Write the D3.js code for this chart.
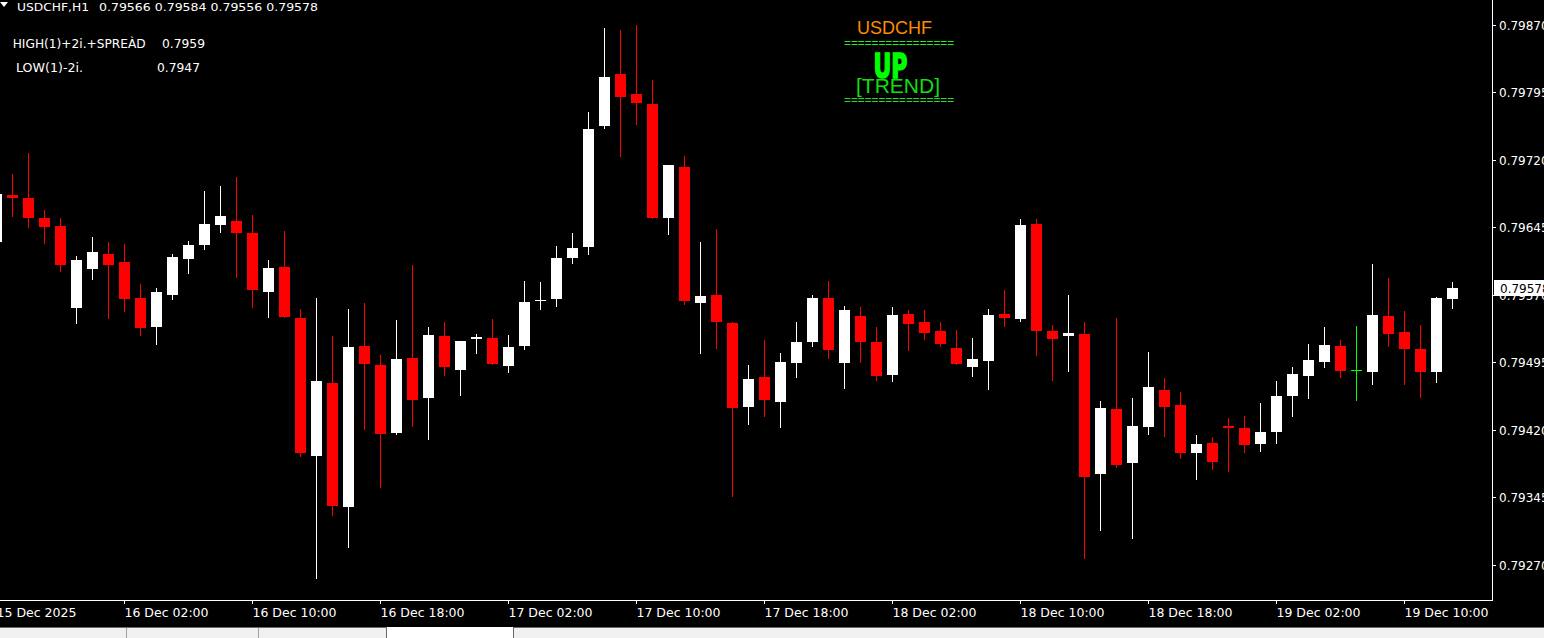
<!DOCTYPE html>
<html><head><meta charset="utf-8">
<script src="https://cdn.jsdelivr.net/npm/d3@7"></script>
<style>html,body{margin:0;padding:0;background:#000;overflow:hidden}svg{display:block}</style>
</head><body>
<script>
// ---- data (USDCHF H1) ----
const symbol = "USDCHF,H1";
const startTime = "2025-12-15T18:00";
const openP  = [0.79629,0.79681,0.79678,0.79656,0.79647,0.79556,0.79599,0.79616,0.79607,0.79567,0.79534,0.79570,0.79610,0.79626,0.79648,0.79652,0.79639,0.79573,0.79601,0.79544,0.79391,0.79472,0.79334,0.79513,0.79492,0.79417,0.79500,0.79455,0.79524,0.79487,0.79521,0.79522,0.79491,0.79513,0.79563,0.79566,0.79611,0.79623,0.79758,0.79816,0.79793,0.79782,0.79655,0.79712,0.79561,0.79570,0.79539,0.79445,0.79479,0.79451,0.79494,0.79518,0.79567,0.79494,0.79547,0.79518,0.79481,0.79549,0.79540,0.79530,0.79511,0.79490,0.79497,0.79549,0.79543,0.79649,0.79530,0.79524,0.79527,0.79371,0.79443,0.79383,0.79423,0.79464,0.79448,0.79394,0.79406,0.79424,0.79422,0.79404,0.79418,0.79458,0.79480,0.79496,0.79513,0.79487,0.79485,0.79547,0.79529,0.79510,0.79484,0.79566];
const highP  = [0.79687,0.79704,0.79728,0.79664,0.79656,0.79613,0.79634,0.79629,0.79627,0.79582,0.79578,0.79616,0.79630,0.79686,0.79691,0.79701,0.79659,0.79609,0.79641,0.79554,0.79567,0.79524,0.79554,0.79561,0.79503,0.79542,0.79603,0.79534,0.79540,0.79519,0.79527,0.79543,0.79526,0.79586,0.79584,0.79624,0.79639,0.79773,0.79867,0.79864,0.79870,0.79809,0.79714,0.79724,0.79629,0.79643,0.79540,0.79492,0.79520,0.79506,0.79540,0.79570,0.79586,0.79558,0.79557,0.79534,0.79557,0.79553,0.79553,0.79540,0.79531,0.79522,0.79554,0.79576,0.79654,0.79654,0.79537,0.79570,0.79540,0.79452,0.79544,0.79456,0.79507,0.79478,0.79462,0.79414,0.79412,0.79433,0.79436,0.79450,0.79474,0.79490,0.79516,0.79534,0.79520,0.79536,0.79604,0.79589,0.79552,0.79537,0.79568,0.79584];
const lowP   = [0.79626,0.79658,0.79645,0.79628,0.79597,0.79539,0.79588,0.79544,0.79552,0.79526,0.79516,0.79566,0.79594,0.79621,0.79640,0.79590,0.79557,0.79546,0.79546,0.79391,0.79255,0.79326,0.79290,0.79421,0.79357,0.79415,0.79424,0.79410,0.79481,0.79459,0.79505,0.79493,0.79485,0.79510,0.79554,0.79558,0.79605,0.79616,0.79755,0.79724,0.79760,0.79655,0.79638,0.79560,0.79506,0.79511,0.79347,0.79427,0.79436,0.79423,0.79479,0.79513,0.79500,0.79467,0.79495,0.79476,0.79475,0.79509,0.79521,0.79513,0.79493,0.79480,0.79465,0.79536,0.79541,0.79503,0.79476,0.79486,0.79278,0.79309,0.79379,0.79300,0.79415,0.79413,0.79389,0.79365,0.79377,0.79374,0.79396,0.79397,0.79405,0.79435,0.79455,0.79490,0.79479,0.79453,0.79471,0.79513,0.79471,0.79457,0.79473,0.79556];
const closeP = [0.79682,0.79678,0.79656,0.79645,0.79603,0.79609,0.79618,0.79603,0.79566,0.79533,0.79573,0.79612,0.79626,0.79649,0.79658,0.79639,0.79576,0.79600,0.79546,0.79394,0.79474,0.79335,0.79512,0.79493,0.79416,0.79499,0.79453,0.79526,0.79490,0.79519,0.79523,0.79493,0.79512,0.79562,0.79564,0.79611,0.79622,0.79754,0.79812,0.79790,0.79783,0.79656,0.79714,0.79563,0.79569,0.79540,0.79444,0.79477,0.79453,0.79496,0.79518,0.79567,0.79509,0.79553,0.79518,0.79480,0.79548,0.79538,0.79528,0.79516,0.79493,0.79499,0.79548,0.79544,0.79648,0.79530,0.79521,0.79528,0.79368,0.79444,0.79381,0.79424,0.79468,0.79445,0.79394,0.79404,0.79384,0.79422,0.79403,0.79418,0.79458,0.79482,0.79498,0.79514,0.79486,0.79487,0.79548,0.79527,0.79510,0.79485,0.79567,0.79578];
const priceTicks = [0.79870,0.79795,0.79720,0.79645,0.79570,0.79495,0.79420,0.79345,0.79270];
const timeTickIdx = [0,8,16,24,32,40,48,56,64,72,80,88];
const timeTickLabels = ["15 Dec 2025","16 Dec 02:00","16 Dec 10:00","16 Dec 18:00","17 Dec 02:00","17 Dec 10:00","17 Dec 18:00","18 Dec 02:00","18 Dec 10:00","18 Dec 18:00","19 Dec 02:00","19 Dec 10:00"];
const infoLabels = ["HIGH(1)+2i.+SPREÀD","LOW(1)-2i."];
const infoValues = ["0.7959","0.7947"];
const trendSymbol = "USDCHF";
const trendWord = "UP";
const trendTag = "[TREND]";

// ---- layout ----
const W = 1544, H = 638;
const plotRight = 1492, plotBottom = 600;
const svg = d3.select("body").append("svg").attr("width", W).attr("height", H)
  .attr("font-family", "DejaVu Sans, sans-serif");
svg.append("rect").attr("width", W).attr("height", H).attr("fill", "#000");

const n = openP.length;
const x = d3.scaleLinear().domain([0, n - 1]).range([-3.5, -3.5 + 16 * (n - 1)]);
const y = d3.scaleLinear().domain([0.79270, 0.79870]).range([565, 25]);

const bars = d3.range(n).map(i => ({i, o: openP[i], h: highP[i], l: lowP[i], c: closeP[i]}));
const colorOf = d => d.c > d.o ? "#ffffff" : (d.c < d.o ? "#ff0000" : "#00ff00");

const plot = svg.append("g").attr("shape-rendering", "crispEdges");
// wicks
plot.selectAll("line.wick").data(bars).join("line").attr("class", "wick")
  .attr("x1", d => Math.floor(x(d.i)) + 0.5).attr("x2", d => Math.floor(x(d.i)) + 0.5)
  .attr("y1", d => Math.round(y(d.h))).attr("y2", d => Math.round(y(d.l)) + 1)
  .attr("stroke", colorOf).attr("stroke-width", 1);
// bodies
plot.selectAll("rect.body").data(bars).join("rect").attr("class", "body")
  .attr("x", d => Math.floor(x(d.i)) - 5).attr("width", 11)
  .attr("y", d => Math.round(y(Math.max(d.o, d.c))))
  .attr("height", d => Math.max(1, Math.round(y(Math.min(d.o, d.c))) - Math.round(y(Math.max(d.o, d.c)))))
  .attr("fill", colorOf);

// ---- axes frame ----
const frame = svg.append("g").attr("shape-rendering", "crispEdges");
frame.append("line").attr("x1", plotRight + 0.5).attr("x2", plotRight + 0.5).attr("y1", 0).attr("y2", plotBottom + 1).attr("stroke", "#fff");
frame.append("line").attr("x1", 0).attr("x2", plotRight + 1).attr("y1", plotBottom + 0.5).attr("y2", plotBottom + 0.5).attr("stroke", "#fff");

// price axis
const pa = svg.append("g");
priceTicks.forEach(v => {
  const yy = Math.round(y(v));
  pa.append("line").attr("x1", plotRight).attr("x2", plotRight + 4).attr("y1", yy + 0.5).attr("y2", yy + 0.5)
    .attr("stroke", "#fff").attr("shape-rendering", "crispEdges");
  pa.append("text").attr("x", plotRight + 7).attr("y", yy + 4.5).attr("fill", "#fff")
    .attr("font-size", 12).text(d3.format(".5f")(v));
});
// current price label
const last = closeP[n - 1];
const ly = Math.round(y(last));
pa.append("rect").attr("x", 1494).attr("y", ly - 8).attr("width", 60).attr("height", 16).attr("fill", "#fff");
pa.append("text").attr("x", 1500).attr("y", ly + 4.5).attr("fill", "#000").attr("font-size", 12).text(d3.format(".5f")(last));

// time axis
const ta = svg.append("g");
timeTickIdx.forEach((ti, k) => {
  const xx = Math.floor(x(ti)) + 0.5;
  ta.append("line").attr("x1", xx).attr("x2", xx).attr("y1", plotBottom).attr("y2", plotBottom + 4)
    .attr("stroke", "#fff").attr("shape-rendering", "crispEdges");
  ta.append("text").attr("x", xx).attr("y", 617).attr("fill", "#fff").attr("font-size", 12)
    .attr("textLength", k === 0 ? 80 : 84).attr("lengthAdjust", "spacingAndGlyphs")
    .text(timeTickLabels[k]);
});

// ---- header ----
svg.append("path").attr("d", "M0,2L8,2L4,7Z").attr("fill", "#fff");
svg.append("text").attr("x", 17).attr("y", 10.5).attr("fill", "#fff").attr("font-size", 11)
  .attr("textLength", 72).attr("lengthAdjust", "spacingAndGlyphs").text(symbol);
svg.append("text").attr("x", 99).attr("y", 10.5).attr("fill", "#fff").attr("font-size", 11)
  .attr("textLength", 219).attr("lengthAdjust", "spacingAndGlyphs")
  .text([openP[n-1], highP[n-1], lowP[n-1], closeP[n-1]].map(d3.format(".5f")).join(" "));

// info lines
const infoX = [12.7, 16], infoW = [133, 67], valX = [162, 157], infoY = [47.7, 71.7];
infoLabels.forEach((t, k) => {
  svg.append("text").attr("x", infoX[k]).attr("y", infoY[k]).attr("fill", "#fff").attr("font-size", 12.5)
    .attr("textLength", infoW[k]).attr("lengthAdjust", "spacingAndGlyphs").text(t);
  svg.append("text").attr("x", valX[k]).attr("y", infoY[k]).attr("fill", "#fff").attr("font-size", 12.5)
    .attr("textLength", 43).attr("lengthAdjust", "spacingAndGlyphs").text(infoValues[k]);
});

// trend panel
const tp = svg.append("g").attr("font-family", "Liberation Sans, Arial, sans-serif");
tp.append("text").attr("x", 857).attr("y", 34).attr("fill", "#ff8c00").attr("font-size", 19)
  .attr("textLength", 75).attr("lengthAdjust", "spacingAndGlyphs").text(trendSymbol);
const eq = "================";
tp.append("text").attr("x", 844).attr("y", 47).attr("fill", "#22ee22").attr("font-size", 13)
  .attr("textLength", 110).attr("lengthAdjust", "spacingAndGlyphs").text(eq);
tp.append("text").attr("x", 873.5).attr("y", 78.3).attr("fill", "#00ff00").attr("font-size", 34)
  .attr("font-weight", "bold").attr("font-family", "DejaVu Sans, sans-serif")
  .attr("stroke", "#00ff00").attr("stroke-width", 1.6).attr("stroke-linejoin", "miter")
  .attr("textLength", 34).attr("lengthAdjust", "spacingAndGlyphs").text(trendWord);
tp.append("text").attr("x", 856).attr("y", 92.7).attr("fill", "#11dd11").attr("font-size", 20)
  .attr("textLength", 84).attr("lengthAdjust", "spacingAndGlyphs").text(trendTag);
tp.append("text").attr("x", 844).attr("y", 103.5).attr("fill", "#22dd22").attr("font-size", 13)
  .attr("textLength", 110).attr("lengthAdjust", "spacingAndGlyphs").text(eq);

// bottom tab strip
const tabs = svg.append("g").attr("shape-rendering", "crispEdges");
tabs.append("rect").attr("x", 0).attr("y", 627).attr("width", W).attr("height", 11).attr("fill", "#f0f0f0");
tabs.append("line").attr("x1", 0).attr("x2", W).attr("y1", 627.5).attr("y2", 627.5).attr("stroke", "#696969");
tabs.append("rect").attr("x", 387).attr("y", 627).attr("width", 126).attr("height", 11).attr("fill", "#fff");
[126.5, 258.5].forEach(xx => tabs.append("line").attr("x1", xx).attr("x2", xx).attr("y1", 628).attr("y2", 638).attr("stroke", "#a0a0a0"));
[386.5, 513.5].forEach(xx => tabs.append("line").attr("x1", xx).attr("x2", xx).attr("y1", 627).attr("y2", 638).attr("stroke", "#696969"));
</script>
</body></html>
